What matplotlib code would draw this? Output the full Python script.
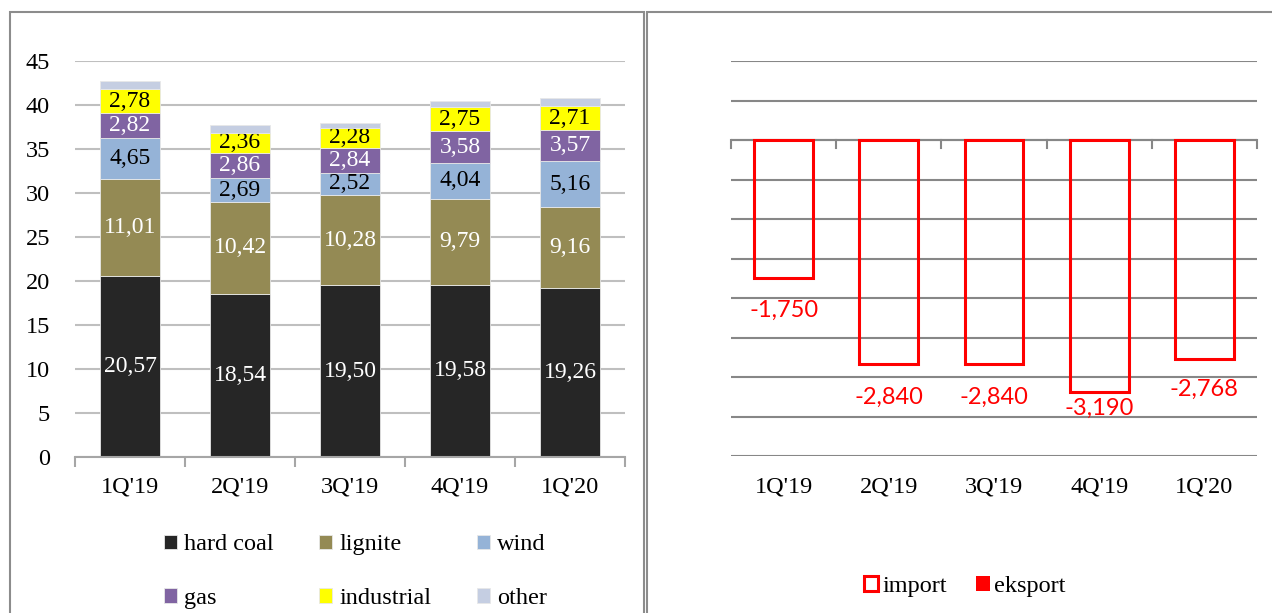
import matplotlib
matplotlib.use("Agg")
import matplotlib.pyplot as plt
from matplotlib.patches import Rectangle
import numpy as np

# Set figures
fontsize = 17.5
plt.rc('font', size=fontsize, family='Liberation Serif')

# Data
quarters   = ["1Q'19", "2Q'19", "3Q'19", "4Q'19", "1Q'20"]
hard_coal  = [20.57, 18.54, 19.50, 19.58, 19.26]
lignite    = [11.01, 10.42, 10.28, 9.79, 9.16]
wind       = [4.65, 2.69, 2.52, 4.04, 5.16]
gas        = [2.82, 2.86, 2.84, 3.58, 3.57]
industrial = [2.78, 2.36, 2.28, 2.75, 2.71]
other      = [0.90, 0.85, 0.55, 0.70, 0.95]

imports = [-1.750, -2.840, -2.840, -3.190, -2.768]
exports = [0, 0, 0, 0, 0]

series = [("hard coal", hard_coal, "#262626", "white"),
          ("lignite", lignite, "#948A54", "white"),
          ("wind", wind, "#95B3D7", "black"),
          ("gas", gas, "#8064A2", "white"),
          ("industrial", industrial, "#FFFF00", "black"),
          ("other", other, "#C5CEE2", None)]

W, H = 1272, 613
fig = plt.figure(figsize=(W / 100, H / 100), dpi=100)

# panel frames
fig.patches.append(Rectangle((10 / W, -0.05), 634 / W, 1.05 - 12 / H, transform=fig.transFigure,
                             fill=False, edgecolor="#8C8C8C", linewidth=1.5))
fig.patches.append(Rectangle((647 / W, -0.05), 1.0, 1.05 - 12 / H, transform=fig.transFigure,
                             fill=False, edgecolor="#8C8C8C", linewidth=1.5))

x = np.arange(len(quarters))

# ---- left: generation mix ----
ax1 = fig.add_axes([75 / W, (H - 457) / H, 550 / W, 396 / H])
bottom = np.zeros(len(quarters))
handles = []
for name, vals, col, tcol in series:
    bars = ax1.bar(x, vals, 0.55, bottom=bottom, color=col, edgecolor="#E8E8E8",
                   linewidth=0.6, label=name, zorder=3)
    handles.append(bars)
    if tcol is not None:
        ax1.bar_label(bars, labels=["{:.2f}".format(v).replace(".", ",") for v in vals],
                      label_type="center", color=tcol, fontsize=17)
    bottom += np.array(vals)

ax1.set_xlim(-0.5, len(quarters) - 0.5)
ax1.set_ylim(0, 45)
ax1.set_yticks(np.arange(0, 46, 5))
ax1.yaxis.grid(True, color="#BFBFBF", linewidth=1.5, zorder=0)
ax1.tick_params(axis="y", length=0, pad=18)
ax1.set_xticks(x)
ax1.set_xticklabels(quarters)
ax1.set_xticks(np.arange(-0.5, len(quarters), 1), minor=True)
ax1.tick_params(axis="x", which="major", length=0, pad=14)
ax1.tick_params(axis="x", which="minor", length=7, width=1.5, color="#A6A6A6")
for s in ["left", "top", "right"]:
    ax1.spines[s].set_visible(False)
ax1.spines["bottom"].set_color("#A6A6A6")
ax1.spines["bottom"].set_linewidth(1.5)
ax1.spines["bottom"].set_zorder(4)

# legend fills column-wise, so order the handles to read across rows
order = [0, 3, 1, 4, 2, 5]
ax1.legend([handles[i] for i in order], [series[i][0] for i in order],
           loc="center", bbox_to_anchor=(0.51, -0.29), ncol=3, frameon=False,
           handlelength=0.55, handleheight=0.55, handletextpad=0.3,
           columnspacing=1.85, labelspacing=1.35, fontsize=17.5,
           bbox_transform=ax1.transAxes)

# ---- right: trade balance ----
ax2 = fig.add_axes([731 / W, (H - 456) / H, 526 / W, 395 / H])
ax2.bar(x, imports, 0.56, facecolor="none", edgecolor="#FF0000", linewidth=2.2,
        label="import", zorder=3)
ax2.bar(x, exports, 0.56, color="#FF0000", linewidth=0, label="eksport", zorder=3)

label_off = [-32, -33, -33, -16, -31]
for xi, v, off in zip(x, imports, label_off):
    ax2.annotate("{:.3f}".format(v).replace(".", ","), (xi, v), xytext=(0, off * 0.72),
                 textcoords="offset points", ha="center", va="center",
                 color="#FF0000", fontsize=17, family="Lato")

ax2.set_xlim(-0.5, len(quarters) - 0.5)
ax2.set_ylim(-4.0, 1.0)
ax2.set_yticks(np.arange(-4.0, 1.01, 0.5))
ax2.set_yticklabels([])
ax2.tick_params(axis="y", length=0)
ax2.yaxis.grid(True, color="#878787", linewidth=1.5, zorder=0)
ax2.set_xticks(x)
ax2.set_xticklabels(quarters)
ax2.tick_params(axis="x", which="major", length=0, pad=15)
for s in ["left", "top", "right", "bottom"]:
    ax2.spines[s].set_visible(False)
ax2.axhline(0, color="#878787", linewidth=1.5, zorder=2)
for t in np.arange(-0.5, len(quarters), 1):
    ax2.plot([t, t], [0, -0.1], color="#878787", linewidth=1.5, zorder=2, clip_on=False)

ax2.legend(loc="center", bbox_to_anchor=(0.445, -0.33), ncol=2, frameon=False,
           handlelength=0.55, handleheight=0.55, handletextpad=0.2,
           columnspacing=1.2, fontsize=17.5, bbox_transform=ax2.transAxes)

fig.savefig("out.png", dpi=100)
